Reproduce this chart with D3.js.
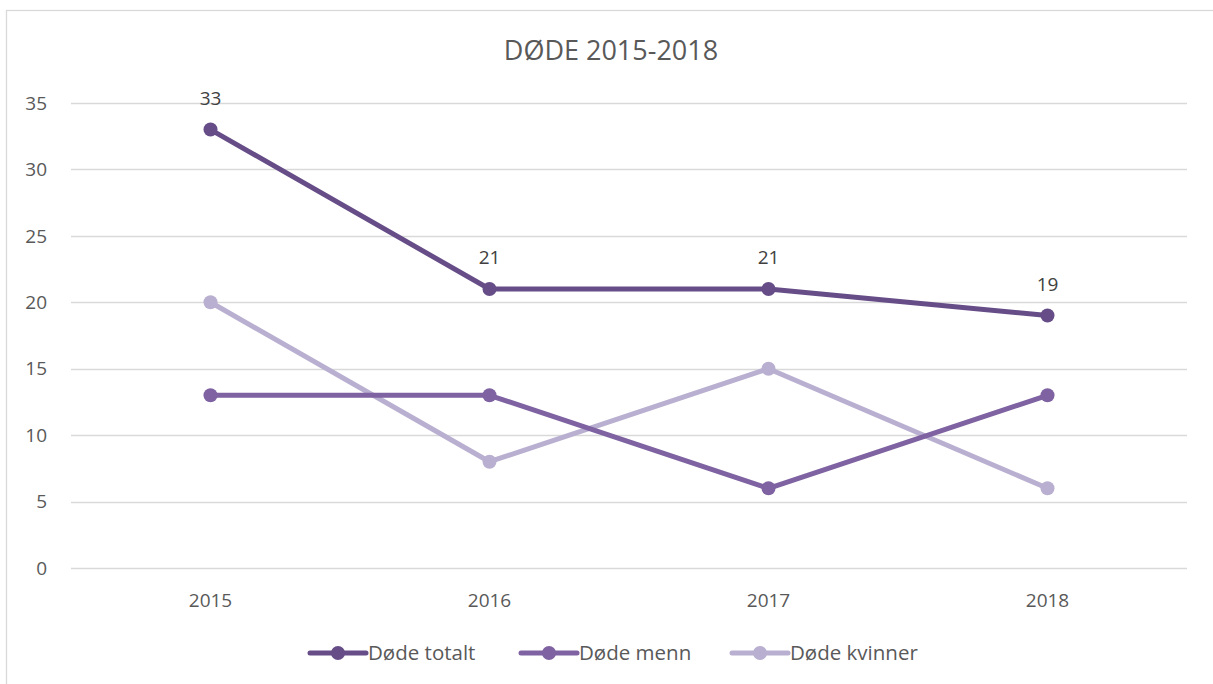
<!DOCTYPE html>
<html>
<head>
<meta charset="utf-8">
<script src="https://cdn.jsdelivr.net/npm/d3@7"></script>
<style>
  body { margin: 0; background: #fff; }
  text { font-family: "Open Sans", "Noto Sans", sans-serif; fill: #595959; }
</style>
</head>
<body>
<div id="chart"></div>
<script>
// data
const years = ["2015", "2016", "2017", "2018"];
const dodeTotalt = [33, 21, 21, 19];
const dodeMenn = [13, 13, 6, 13];
const dodeKvinner = [20, 8, 15, 6];
const yTicks = [0, 5, 10, 15, 20, 25, 30, 35];

const series = [
    {name: "Døde totalt", values: dodeTotalt, color: "#664d87", labels: true},
    {name: "Døde menn", values: dodeMenn, color: "#7f62a1", labels: false},
    {name: "Døde kvinner", values: dodeKvinner, color: "#b9afd0", labels: false}
];

const W = 1213, H = 684;
const m = {t: 103, r: 26, b: 116, l: 71};
const w = W - m.l - m.r, h = H - m.t - m.b;

const svg = d3.select("#chart").append("svg")
    .attr("width", W).attr("height", H);

// outer chart border
svg.append("rect")
    .attr("x", 6.5).attr("y", 10.5)
    .attr("width", W + 10).attr("height", H + 10)
    .attr("fill", "none").attr("stroke", "#d9d9d9").attr("stroke-width", 1.3);

svg.append("text")
    .attr("x", 611).attr("y", 60)
    .attr("text-anchor", "middle")
    .style("font-size", "27px")
    .text("DØDE 2015-2018");

const g = svg.append("g").attr("transform", "translate(" + m.l + "," + m.t + ")");

const x = d3.scaleBand().domain(years).range([0, w]);
const y = d3.scaleLinear().domain([0, 35]).range([h, 0]);

// gridlines
g.selectAll(".grid").data(yTicks).enter().append("line")
    .attr("x1", 0).attr("x2", w)
    .attr("y1", d => Math.round(y(d)) + 0.5).attr("y2", d => Math.round(y(d)) + 0.5)
    .attr("stroke", "#d9d9d9").attr("stroke-width", 1.3);

// y labels
g.selectAll(".ylab").data(yTicks).enter().append("text")
    .attr("x", -24).attr("y", d => y(d))
    .attr("dy", "0.35em")
    .attr("text-anchor", "end")
    .style("font-size", "19px")
    .text(d => d);

// x labels
g.selectAll(".xlab").data(years).enter().append("text")
    .attr("x", d => x(d) + x.bandwidth() / 2)
    .attr("y", h + 39)
    .attr("text-anchor", "middle")
    .style("font-size", "19px")
    .text(d => d);

const line = d3.line()
    .x((d, i) => x(years[i]) + x.bandwidth() / 2)
    .y(d => y(d));

// draw kvinner first so totalt sits on top
series.slice().reverse().forEach(s => {
    g.append("path").datum(s.values)
        .attr("d", line)
        .attr("fill", "none")
        .attr("stroke", s.color)
        .attr("stroke-width", 5)
        .attr("stroke-linejoin", "round");
    g.selectAll(null).data(s.values).enter().append("circle")
        .attr("cx", (d, i) => x(years[i]) + x.bandwidth() / 2)
        .attr("cy", d => y(d))
        .attr("r", 7)
        .attr("fill", s.color);
    if (s.labels) {
        g.selectAll(null).data(s.values).enter().append("text")
            .attr("x", (d, i) => x(years[i]) + x.bandwidth() / 2)
            .attr("y", d => y(d) - 25)
            .attr("text-anchor", "middle")
            .style("font-size", "19px")
            .style("fill", "#404040")
            .text(d => d);
    }
});

// legend
const legX = [310, 521, 732];
const leg = svg.selectAll(".leg").data(series).enter().append("g")
    .attr("transform", (d, i) => "translate(" + legX[i] + ",653)");
leg.append("line").attr("x1", 0).attr("x2", 56).attr("y1", 0).attr("y2", 0)
    .attr("stroke", d => d.color).attr("stroke-width", 5).attr("stroke-linecap", "round");
leg.append("circle").attr("cx", 28).attr("r", 7).attr("fill", d => d.color);
leg.append("text").attr("x", 58).attr("dy", "0.35em")
    .style("font-size", "20.5px")
    .text(d => d.name);
</script>
</body>
</html>
